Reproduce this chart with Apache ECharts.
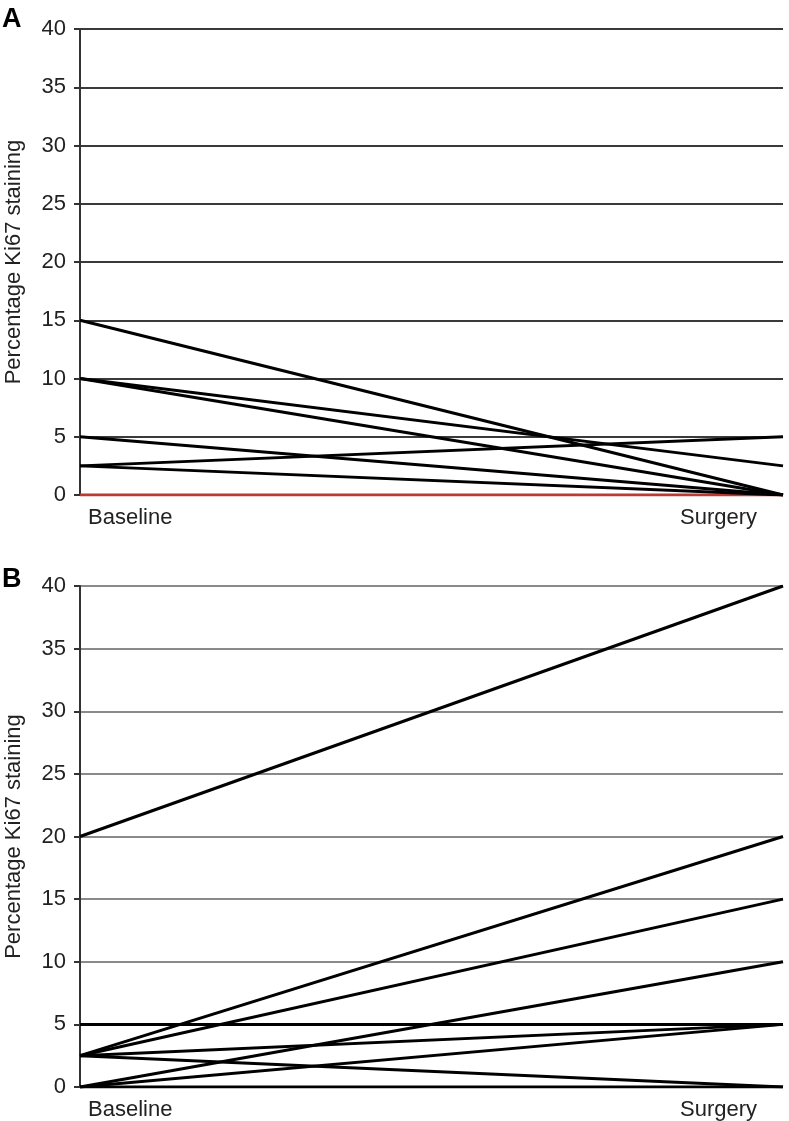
<!DOCTYPE html>
<html><head><meta charset="utf-8">
<script src="https://cdn.jsdelivr.net/npm/echarts@6/dist/echarts.min.js"></script>
<style>html,body{margin:0;padding:0;background:#fff}#c{width:789px;height:1121px}</style>
</head><body><div id="c"></div>
<script>
const categories = ['Baseline', 'Surgery'];
const panelLetters = ['A', 'B'];
const yAxisTitle = 'Percentage Ki67 staining';
const yMin = 0, yMax = 40, yStep = 5;
// Panel A: [baseline, surgery] per patient
const panelA = [[15, 0], [10, 2.5], [10, 0], [5, 0], [2.5, 5], [2.5, 0]];
const panelARed = [0, 0];
// Panel B
const panelB = [[20, 40], [2.5, 20], [2.5, 15], [0, 10], [5, 5], [2.5, 5], [0, 5], [2.5, 0], [0, 0]];

const FONT = 'Liberation Sans, Arial, sans-serif';
const grids = [
  { left: 80, right: 6, top: 29, height: 466, outerBoundsMode: 'none', containLabel: false },
  { left: 80, right: 6, top: 586, height: 501, outerBoundsMode: 'none', containLabel: false }
];
const gridColors = ['#3a3a3a', '#8a8a8a'];

function xAxis(i) {
  return {
    type: 'category', gridIndex: i, boundaryGap: false,
    data: [
      { value: categories[0], textStyle: { align: 'left', padding: [0, 0, 0, 8] } },
      { value: categories[1], textStyle: { align: 'right', padding: [0, 26, 0, 0] } }
    ],
    axisLine: { show: false }, axisTick: { show: false },
    axisLabel: { margin: 12, fontSize: 22, color: '#222', fontFamily: FONT, interval: 0 },
    splitLine: { show: false }
  };
}
function yAxis(i) {
  return {
    type: 'value', gridIndex: i, min: yMin, max: yMax, interval: yStep,
    name: yAxisTitle, nameLocation: 'middle', nameGap: 55, nameRotate: 90,
    nameTextStyle: { fontSize: 22, color: '#222', fontFamily: FONT },
    axisLine: { show: true, lineStyle: { color: '#333', width: 2 } },
    axisTick: { show: true, length: 6, lineStyle: { color: '#333', width: 2 } },
    axisLabel: { margin: 14, fontSize: 22, color: '#222', fontFamily: FONT },
    splitLine: { show: true, lineStyle: { color: gridColors[i], width: 2 } }
  };
}
function lineSeries(data, i, color) {
  return {
    type: 'line', xAxisIndex: i, yAxisIndex: i, data: data,
    symbol: 'none', silent: true, animation: false,
    lineStyle: { color: color, width: 3 }
  };
}
const series = [];
series.push(lineSeries(panelARed, 0, '#b83b35'));
panelA.forEach(d => series.push(lineSeries(d, 0, '#000')));
panelB.forEach(d => series.push(lineSeries(d, 1, '#000')));

const chart = echarts.init(document.getElementById('c'), null, { renderer: 'canvas' });
chart.setOption({
  animation: false,
  grid: grids,
  xAxis: [xAxis(0), xAxis(1)],
  yAxis: [yAxis(0), yAxis(1)],
  series: series,
  graphic: [
    { type: 'text', left: 2, top: 6, style: { text: panelLetters[0], font: 'bold 27px ' + FONT, fill: '#000' } },
    { type: 'text', left: 2, top: 566, style: { text: panelLetters[1], font: 'bold 27px ' + FONT, fill: '#000' } }
  ]
});
</script></body></html>
